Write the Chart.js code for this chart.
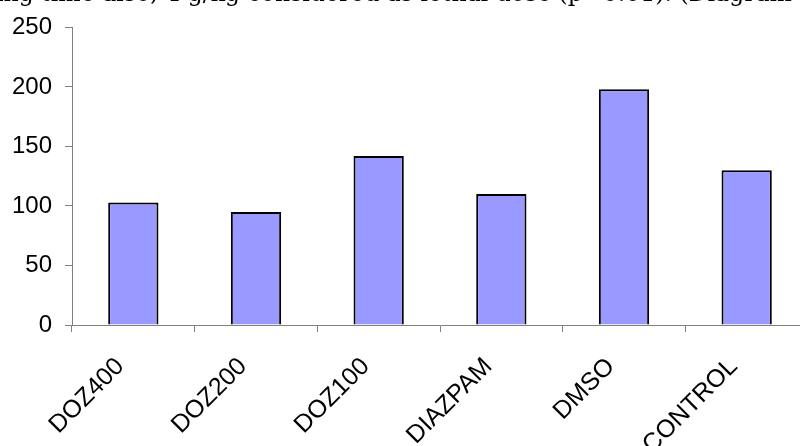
<!DOCTYPE html>
<html>
<head>
<meta charset="utf-8">
<script src="https://cdn.jsdelivr.net/npm/chart.js@4/dist/chart.umd.min.js"></script>
<style>
  html, body { margin: 0; padding: 0; width: 800px; height: 446px; overflow: hidden; background: #fff; }
  #wrap { position: relative; width: 800px; height: 446px; overflow: hidden; }
  #cap { position: absolute; left: -4px; top: -21px; white-space: nowrap; font-family: "DejaVu Serif", serif; font-size: 23.6px; color: #000; }
  canvas { position: absolute; left: 0; top: 0; }
</style>
</head>
<body>
<div id="wrap">
  <canvas id="c" width="808" height="446"></canvas>
  <div id="cap">ing time also, 4 g/kg considered as lethal dose (p&lt;0.01). (Diagram 1)</div>
</div>
<script>
const categories = ["DOZ400", "DOZ200", "DOZ100", "DIAZPAM", "DMSO", "CONTROL"];
const values = [103, 95, 142, 110, 198, 130];
const yTicks = [0, 50, 100, 150, 200, 250];

new Chart(document.getElementById('c'), {
  type: 'bar',
  data: {
    labels: categories,
    datasets: [{
      data: values,
      backgroundColor: '#9999FF',
      borderColor: '#000000',
      borderWidth: 2,
      barPercentage: 0.41,
      categoryPercentage: 1.0
    }]
  },
  options: {
    responsive: false,
    animation: false,
    devicePixelRatio: 1,
    layout: { padding: { top: 26, right: 0, left: 0, bottom: 0 } },
    plugins: { legend: { display: false }, tooltip: { enabled: false }, title: { display: false } },
    scales: {
      x: {
        grid: { offset: true, drawOnChartArea: false, drawTicks: true, tickLength: 7, color: '#808080', tickColor: '#808080' },
        border: { display: true, color: '#808080', width: 1 },
        ticks: {
          color: '#000', font: { family: 'Liberation Sans, Arial, sans-serif', size: 25 },
          minRotation: 45, maxRotation: 45, autoSkip: false, padding: 20, labelOffset: -13
        },
        afterFit: (s) => { s.height = 121; }
      },
      y: {
        min: 0, max: 250,
        afterBuildTicks: (s) => { s.ticks = yTicks.map(v => ({ value: v })); },
        grid: { drawOnChartArea: false, drawTicks: true, tickLength: 7, color: '#808080', tickColor: '#808080' },
        border: { display: true, color: '#808080', width: 1 },
        ticks: { color: '#000', font: { family: 'Liberation Sans, Arial, sans-serif', size: 24 }, padding: 13 },
        afterFit: (s) => { s.width = 72; }
      }
    }
  }
});
</script>
</body>
</html>
